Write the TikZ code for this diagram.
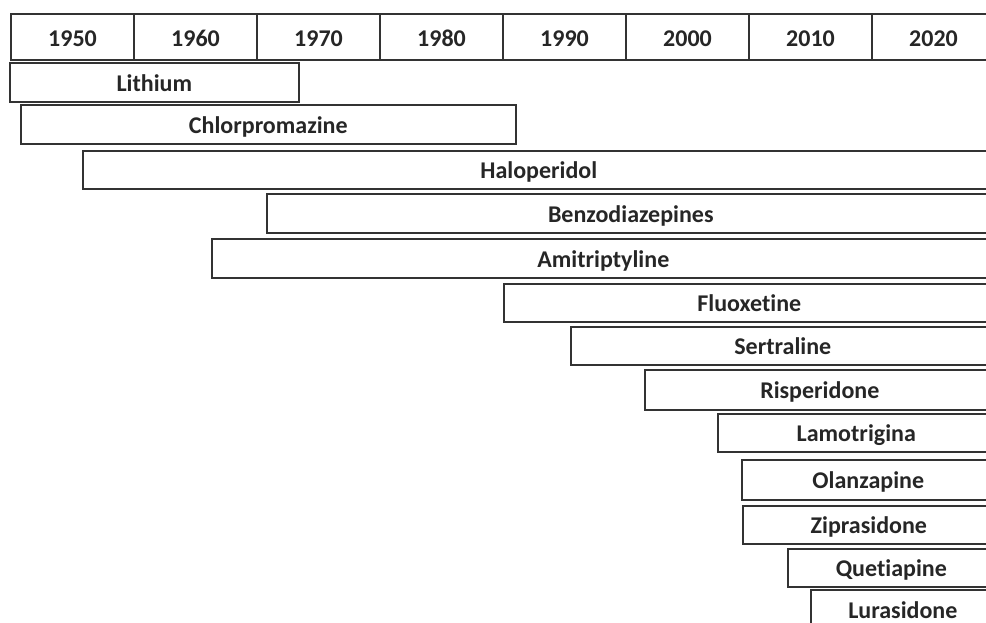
\documentclass[tikz,border=0pt]{standalone}
\usepackage{fontspec}
\setmainfont[Ligatures=NoCommon]{Carlito}

\tikzset{
  box/.style={draw=black!80,line width=1.6pt},
  drugbar/.style={box,anchor=north west,inner sep=0pt},
  lbl/.style={font=\fontsize{24}{28}\selectfont\bfseries,text=black!85,
    text height=18pt,text depth=0pt}
}

\begin{document}
\begin{tikzpicture}[x=1pt,y=-1pt]
\useasboundingbox (0,0) rectangle (986,622);
\clip (0,0) rectangle (986,622);

% Year header
\draw[box] (11,14) rectangle (1000,60);
\foreach \i in {1,...,7}
  \draw[box] (11+123*\i,14) -- (11+123*\i,60);
\foreach \yr [count=\i from 0] in {1950,1960,...,2020}
  \node[lbl] (y\yr) at (72.5+123*\i,37) {\yr};

% Drugs, each bar from its first year
\node[drugbar,lbl,minimum width=289pt,minimum height=39pt] (lithium) at (9,62) {Lithium};
\node[drugbar,lbl,minimum width=495pt,minimum height=39pt] (chlorpromazine) at (20,104) {Chlorpromazine};
\node[drugbar,lbl,minimum width=912pt,minimum height=38pt] (haloperidol) at (82,150) {Haloperidol};
\node[drugbar,lbl,minimum width=728pt,minimum height=39pt] (benzodiazepines) at (266,193) {Benzodiazepines};
\node[drugbar,lbl,minimum width=783pt,minimum height=39pt] (amitriptyline) at (211,238) {Amitriptyline};
\node[drugbar,lbl,minimum width=491pt,minimum height=38pt] (fluoxetine) at (503,283) {Fluoxetine};
\node[drugbar,lbl,minimum width=424pt,minimum height=38pt] (sertraline) at (570,326) {Sertraline};
\node[drugbar,lbl,minimum width=350pt,minimum height=40pt] (risperidone) at (644,369) {Risperidone};

% Later drugs
\node[drugbar,lbl,minimum width=277pt,minimum height=38pt] (lamotrigina) at (717,413) {Lamotrigina};
\node[drugbar,lbl,minimum width=253pt,minimum height=40pt] (olanzapine) at (741,459) {Olanzapine};
\node[drugbar,lbl,minimum width=252pt,minimum height=38pt] (ziprasidone) at (742,505) {Ziprasidone};
\node[drugbar,lbl,minimum width=207pt,minimum height=38pt] (quetiapine) at (787,548) {Quetiapine};
\node[drugbar,lbl,minimum width=184pt,minimum height=40pt] (lurasidone) at (810,589) {Lurasidone};

\end{tikzpicture}
\end{document}
